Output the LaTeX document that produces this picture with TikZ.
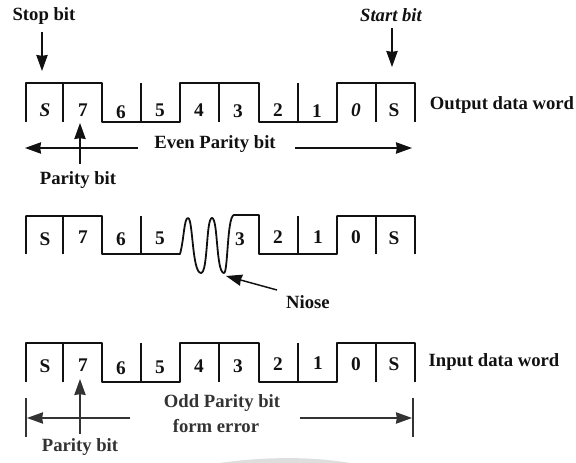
\documentclass[tikz,border=0pt]{standalone}
\usepackage{fontspec}
\setmainfont{Liberation Serif}
\usetikzlibrary{arrows.meta}
\definecolor{ink}{HTML}{111111}
\definecolor{inkb}{HTML}{333333}
\tikzset{
  x=0.75pt,y=-0.75pt,
  wave/.style={draw=ink,line width=1.35pt,line join=round},
  tick/.style={draw=ink,line width=1pt},
  lbl/.style={font=\fontsize{14}{16}\selectfont\bfseries,text=ink,inner sep=0pt,anchor=center},
  bit/.style={lbl,font=\fontsize{14.5}{16}\selectfont\bfseries},
  arr/.style={draw=ink,line width=1.1pt,-{Stealth[length=12pt,width=8.5pt,inset=0.6pt]}},
  arrb/.style={arr,draw=inkb,fill=inkb},
}
\begin{document}
\begin{tikzpicture}
\useasboundingbox (0,0) rectangle (576,463);
% smudge
\fill[black!13] (220,463) .. controls (260,457) and (310,456) .. (350,463) -- cycle;
% ROW 1
\draw[wave] (26,122) -- (26,83) -- (102,83) -- (102,122) -- (180,122) -- (180,83) -- (259,83) -- (259,122) -- (337,122) -- (337,83) -- (415,83) -- (415,122);
\foreach \x in {63,141,219,298,376} \draw[tick] (\x,83) -- (\x,122);
\node[bit] (a0) at (45,110) {\itshape S};
\node[bit] (a1) at (83,110) {7};
\node[bit] (a2) at (121,112) {6};
\node[bit] (a3) at (160,110) {5};
\node[bit] (a4) at (199,110) {4};
\node[bit] (a5) at (238,111) {3};
\node[bit] (a6) at (278,110) {2};
\node[bit] (a7) at (317,111) {1};
\node[bit] (a8) at (356,110) {\itshape 0};
\node[bit] (a9) at (394,110) {S};
\node[lbl] (stop) at (44,16) {Stop bit};
\node[lbl] (start) at (391,15) {\itshape Start bit};
\node[lbl] (out) at (502,105) {Output data word};
\node[lbl] (even) at (215,144) {Even Parity bit};
\node[lbl] (par1) at (78,180) {Parity bit};
\coordinate (stopT) at (42,32);  \coordinate (stopH) at (42,71);
\coordinate (startT) at (392,28); \coordinate (startH) at (392,67);
\coordinate (eL) at (25,148); \coordinate (eLs) at (138,148);
\coordinate (eR) at (412,148); \coordinate (eRs) at (295,148);
\coordinate (p1T) at (80,164); \coordinate (p1H) at (80,123);
\draw[arr] (stopT) -- (stopH);
\draw[arr] (startT) -- (startH);
\draw[arr] (eLs) -- (eL);
\draw[arr] (eRs) -- (eR);
\draw[arr] (p1T) -- (p1H);
% ROW 2
\draw[wave] (26,254) -- (26,216) -- (102,216) -- (102,254) -- (180,254)
  .. controls (184,240) and (184,218) .. (188,218)
  .. controls (193,218) and (192,273) .. (201,273)
  .. controls (208,273) and (206,218) .. (212,218)
  .. controls (218,218) and (216,273) .. (224,273)
  .. controls (228,273) and (227,216) .. (234,215)
  -- (259,215) -- (259,254) -- (337,254) -- (337,216) -- (415,216) -- (415,254);
\foreach \x in {63,141,298,376} \draw[tick] (\x,216) -- (\x,254);
\node[bit] (b0) at (45,239) {S};
\node[bit] (b1) at (83,237) {7};
\node[bit] (b2) at (121,239) {6};
\node[bit] (b3) at (160,238) {5};
\node[bit] (b5) at (240,239) {3};
\node[bit] (b6) at (278,237) {2};
\node[bit] (b7) at (318,237) {1};
\node[bit] (b8) at (356,237) {0};
\node[bit] (b9) at (394,238) {S};
\node[lbl] (noise) at (308,302) {Niose};
\coordinate (nT) at (277,290); \coordinate (nH) at (226,276);
\draw[arr] (nT) -- (nH);
% ROW 3
\draw[wave] (26,382) -- (26,343) -- (102,343) -- (102,382) -- (180,382) -- (180,343) -- (259,343) -- (259,382) -- (337,382) -- (337,343) -- (415,343) -- (415,382);
\foreach \x in {63,141,219,298,376} \draw[tick] (\x,343) -- (\x,382);
\node[bit] (c0) at (45,366) {S};
\node[bit] (c1) at (83,365) {7};
\node[bit] (c2) at (121,368) {6};
\node[bit] (c3) at (160,367) {5};
\node[bit] (c4) at (199,366) {4};
\node[bit] (c5) at (238,366) {3};
\node[bit] (c6) at (278,364) {2};
\node[bit] (c7) at (318,363) {1};
\node[bit] (c8) at (356,364) {0};
\node[bit] (c9) at (394,364) {S};
\node[lbl] (in) at (494,362) {Input data word};
\node[lbl,text=inkb] (odd) at (222,403) {Odd Parity bit};
\node[lbl,text=inkb] (form) at (216,426) {form error};
\node[lbl,text=inkb] (par2) at (80,447) {Parity bit};
\coordinate (lt) at (26,398); \coordinate (lb) at (26,437);
\coordinate (rt) at (413,398); \coordinate (rb) at (413,437);
\coordinate (oL) at (27,418); \coordinate (oLs) at (130,418);
\coordinate (oR) at (412,418); \coordinate (oRs) at (300,418);
\coordinate (p2T) at (80,434); \coordinate (p2H) at (80,379);
\draw[draw=inkb,line width=1.1pt] (lt) -- (lb);
\draw[draw=inkb,line width=1.1pt] (rt) -- (rb);
\draw[arrb] (oLs) -- (oL);
\draw[arrb] (oRs) -- (oR);
\draw[arrb] (p2T) -- (p2H);
\end{tikzpicture}
\end{document}
